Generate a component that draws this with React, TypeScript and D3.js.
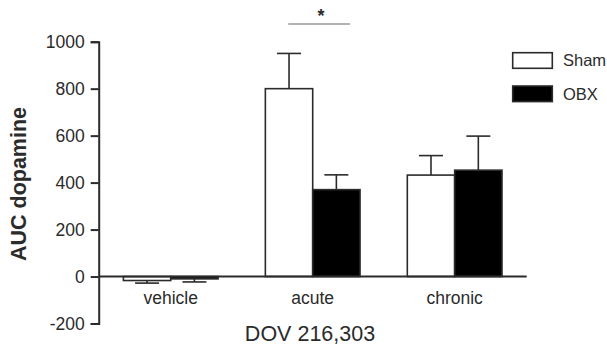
import { useEffect, useRef } from "react";
import * as d3 from "d3";

// values
const groups = ["vehicle", "acute", "chronic"];
const series = ["Sham", "OBX"];
const shamMean = [-17, 800, 432];
const shamErr = [-28, 950, 515];
const obxMean = [-10, 370, 453];
const obxErr = [-23, 433, 598];
const yTicks = [-200, 0, 200, 400, 600, 800, 1000];

const W = 607;
const H = 348;
const FONT = "'Liberation Sans', Arial, sans-serif";
const INK = "#2b2b2b";

function App() {
  const ref = useRef<SVGSVGElement>(null);

  useEffect(() => {
    const svg = d3.select(ref.current);
    svg.selectAll("*").remove();

    const y = d3.scaleLinear().domain([-200, 1000]).range([323.5, 41.7]);
    const x = d3.scaleBand().domain(groups).range([98.7, 526.7]).paddingInner(0.333).paddingOuter(0.174);
    const xs = d3.scaleBand().domain(series).range([0, x.bandwidth()]);

    const rows = groups.map((g, i) => [
      { g, s: "Sham", v: shamMean[i], e: shamErr[i] },
      { g, s: "OBX", v: obxMean[i], e: obxErr[i] },
    ]).flat();

    // y axis (plain hyphen for negatives, as in the figure)
    const yAxis = svg.append("g")
      .attr("transform", "translate(98.7,0)")
      .call(d3.axisLeft(y).tickValues(yTicks).tickSize(8).tickPadding(6).tickFormat(d => String(d)));
    yAxis.select(".domain").attr("stroke", INK).attr("stroke-width", 2);
    yAxis.selectAll(".tick line").attr("stroke", INK).attr("stroke-width", 2);
    yAxis.selectAll(".tick text").attr("fill", INK).style("font-family", FONT).style("font-size", "17.5px");

    // error bars (drawn first so bars cover the stems)
    const err = svg.append("g");
    rows.forEach(d => {
      const cx = x(d.g)! + xs(d.s)! + xs.bandwidth() / 2;
      err.append("line").attr("x1", cx).attr("x2", cx).attr("y1", y(d.v)).attr("y2", y(d.e))
        .attr("stroke", INK).attr("stroke-width", 1.6);
      err.append("line").attr("x1", cx - 12).attr("x2", cx + 12).attr("y1", y(d.e)).attr("y2", y(d.e))
        .attr("stroke", INK).attr("stroke-width", 1.6);
    });

    // bars
    svg.append("g").selectAll("rect").data(rows).join("rect")
      .attr("x", d => x(d.g)! + xs(d.s)!)
      .attr("width", xs.bandwidth())
      .attr("y", d => Math.min(y(d.v), y(0)))
      .attr("height", d => Math.abs(y(d.v) - y(0)))
      .attr("fill", d => (d.s === "Sham" ? "#fff" : "#000"))
      .attr("stroke", INK)
      .attr("stroke-width", 1.6);

    // zero baseline
    svg.append("line").attr("x1", 98.7).attr("x2", 526.7).attr("y1", y(0)).attr("y2", y(0))
      .attr("stroke", INK).attr("stroke-width", 2);

    // category labels
    svg.append("g").selectAll("text").data(groups).join("text")
      .attr("x", d => x(d)! + x.bandwidth() / 2)
      .attr("y", 304)
      .attr("text-anchor", "middle")
      .attr("fill", INK)
      .style("font-family", FONT).style("font-size", "17.5px")
      .text(d => d);

    svg.append("text").attr("x", 310).attr("y", 341).attr("text-anchor", "middle")
      .attr("fill", INK).style("font-family", FONT).style("font-size", "21.5px")
      .text("DOV 216,303");

    svg.append("text").attr("transform", "translate(26,184) rotate(-90)").attr("text-anchor", "middle")
      .attr("fill", INK).style("font-family", FONT).style("font-size", "21.5px").style("font-weight", "bold")
      .text("AUC dopamine");

    // significance marker between acute groups
    svg.append("line").attr("x1", 288.3).attr("x2", 350).attr("y1", 24).attr("y2", 24)
      .attr("stroke", "#999").attr("stroke-width", 1.6);
    svg.append("text").attr("x", 321).attr("y", 22).attr("text-anchor", "middle")
      .attr("fill", INK).style("font-family", FONT).style("font-size", "18px").style("font-weight", "bold")
      .text("*");

    // legend
    const leg = svg.append("g");
    series.forEach((s, i) => {
      const ly = 52.7 + i * 33.3;
      leg.append("rect").attr("x", 512.7).attr("y", ly).attr("width", 39.6).attr("height", 15.6)
        .attr("fill", s === "Sham" ? "#fff" : "#000").attr("stroke", INK).attr("stroke-width", 1.6);
      leg.append("text").attr("x", 563).attr("y", ly + 8).attr("dy", "0.35em")
        .attr("fill", INK).style("font-family", FONT).style("font-size", "16.5px").text(s);
    });
  }, []);

  return (
    <svg ref={ref} width={W} height={H} style={{ position: "absolute", left: 0, top: 0, background: "#fff" }} />
  );
}

export default App;
